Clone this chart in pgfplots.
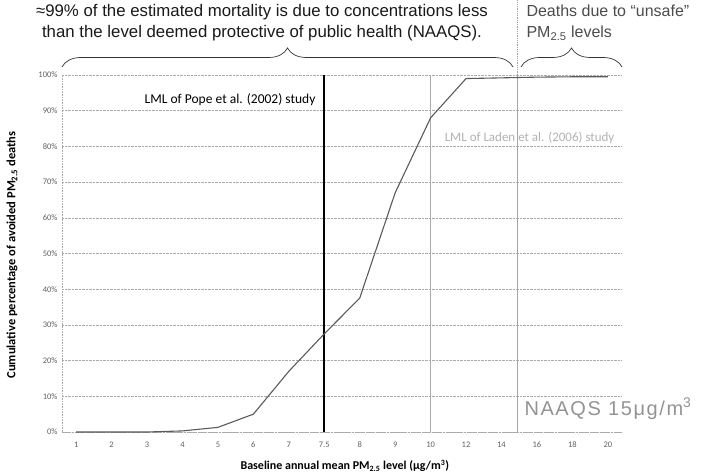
\documentclass[border=0pt]{standalone}
\usepackage{fontspec}
\setmainfont{Carlito}
\newfontfamily\arial{Liberation Sans}
\newfontfamily\arialwide{Liberation Sans}[LetterSpace=8]
\usepackage{pgfplots}
\pgfplotsset{compat=1.18}
\usetikzlibrary{decorations.pathreplacing}
\definecolor{gridc}{HTML}{ABABAB}
\definecolor{curvec}{HTML}{5A5A5A}
\definecolor{ticktext}{HTML}{606060}
\begin{document}
\begin{tikzpicture}
\useasboundingbox (0pt,0pt) rectangle (715pt,476pt);
\begin{axis}[
  at={(62pt,44pt)}, anchor=south west,
  scale only axis, width=560pt, height=357pt,
  xmin=-0.4, xmax=15.4, ymin=0, ymax=100,
  axis lines*=left,
  axis line style={gridc, densely dotted, line width=0.6pt},
  ymajorgrids, grid style={gridc, densely dotted, line width=0.5pt},
  xtick={0,...,15},
  xticklabels={1,2,3,4,5,6,7,7.5,8,9,10,12,14,16,18,20},
  ytick={0,10,...,100},
  yticklabels={0\%,10\%,20\%,30\%,40\%,50\%,60\%,70\%,80\%,90\%,100\%},
  tick style={draw=none},
  ticklabel style={font=\fontsize{8.5}{10}\selectfont, text=ticktext},
  xticklabel style={yshift=-5pt, text height=1.4ex, text depth=0.2ex},
  yticklabel style={xshift=-1pt},
  xlabel={Baseline annual mean PM\textsubscript{2.5} level (μg/m\textsuperscript{3})},
  ylabel={Cumulative percentage of avoided PM\textsubscript{2.5} deaths},
  xlabel style={at={(axis description cs:0.505,-0.095)}, anchor=center, font=\fontsize{12}{14}\bfseries},
  ylabel style={at={(axis description cs:-0.089,0.496)}, anchor=center, font=\fontsize{12.5}{14}\bfseries},
  clip=false,
]
\addplot[black, line width=1.6pt] coordinates {(7,0) (7,100)};
\addplot[gray!65, line width=0.8pt] coordinates {(10,0) (10,100)};
\addplot[gray!70, line width=1.5pt] coordinates {(12.45,0) (12.45,100)};
\addplot[gray!75, densely dotted, line width=0.8pt] coordinates {(12.45,100) (12.45,122.5)};
\addplot[curvec, line width=1.1pt, mark=none] coordinates {
(0,0) (1,0) (2,0) (3,0.3) (4,1.3) (5,5) (6,17) (7,27.5) (8,37.5) (9,67) (10,88) (11,99) (12,99.2) (13,99.4) (14,99.5) (15,99.5)};
\node[anchor=east, font=\fontsize{13.5}{15}\selectfont, text=black] at (axis cs:6.85,93) {LML of Pope et al. (2002) study};
\node[anchor=west, font=\fontsize{13}{15}\selectfont, text=gray!60] at (axis cs:10.3,82.5) {LML of Laden et al. (2006) study};
\node[anchor=west, font=\arialwide\fontsize{20}{22}\selectfont, text=gray!85] at (axis cs:12.55,6.5) {NAAQS 15μg/m\textsuperscript{3}};
\end{axis}
\draw[decorate, decoration={brace, amplitude=19pt}, line width=0.7pt, black!80] (62pt,409pt) -- (513pt,409pt);
\draw[decorate, decoration={brace, amplitude=19pt}, line width=0.7pt, black!80] (521pt,409pt) -- (622pt,409pt);
\node[align=center, font=\arial\fontsize{16.8}{21}\selectfont, text=black!90] at (262pt,453pt) {≈99\% of the estimated mortality is due to concentrations less\\than the level deemed protective of public health (NAAQS).};
\node[align=left, anchor=west, font=\arial\fontsize{16}{21}\selectfont, text=black!70] at (523pt,453pt) {Deaths due to “unsafe”\\PM\textsubscript{2.5} levels};
\end{tikzpicture}
\end{document}
